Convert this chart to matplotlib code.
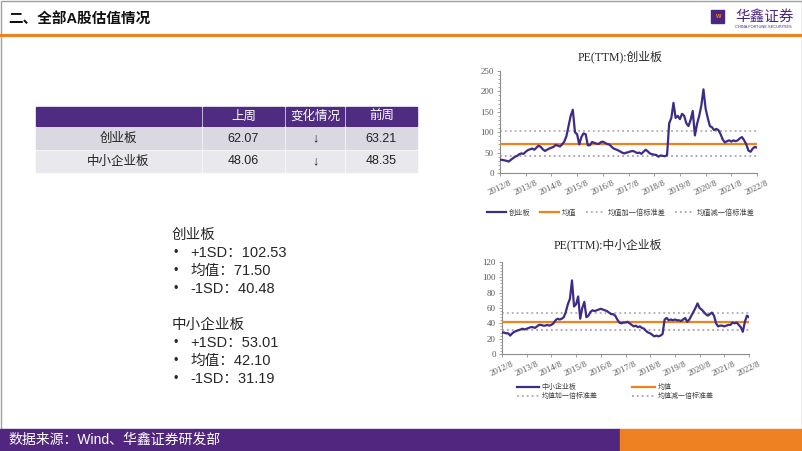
import numpy as np
import matplotlib.pyplot as plt
from matplotlib.patches import Rectangle
from matplotlib.lines import Line2D

plt.rcParams['font.family'] = ['Liberation Sans', 'Noto Sans CJK SC']

# 月度PE(TTM)  2012/8 - 2022/8
cyb_pe = [33, 32, 31, 30, 28,
          32, 36, 40, 42, 46, 48, 47, 52, 56, 58, 60, 57,
          62, 67, 64, 58, 54, 57, 60, 62, 64, 69, 67, 65,
          70, 77, 90, 115, 140, 155, 100, 95, 70, 88, 97, 95,
          68, 68, 76, 74, 72, 71, 75, 77, 74, 71, 70, 65,
          60, 58, 56, 53, 50, 48, 50, 51, 53, 54, 52, 49,
          50, 47, 52, 57, 53, 48, 46, 45, 44, 40, 43, 42,
          41, 44, 122, 135, 172, 135, 140, 132, 145, 140, 122, 115,
          130, 152, 92, 120, 140, 165, 205, 158, 135, 115, 112, 105,
          108, 105, 95, 82, 75, 78, 80, 77, 80, 78, 80, 85,
          88, 80, 70, 55, 52, 60, 64, 62]
zxb_pe = [28, 28, 27, 27, 24,
          27, 29, 30, 31, 32, 33, 32, 33, 34, 35, 35, 34,
          36, 38, 38, 37, 37, 38, 37, 38, 40, 44, 46, 45,
          46, 48, 55, 65, 72, 96, 62, 65, 75, 46, 60, 68,
          48, 50, 55, 57, 56, 57, 58, 59, 58, 57, 56, 54,
          52, 52, 50, 45, 41, 40, 41, 41, 42, 40, 38, 36,
          37, 35, 36, 34, 33, 30, 28, 27, 25, 23, 24, 23,
          24, 26, 45, 47, 44, 45, 44, 45, 44, 44, 43, 45,
          47, 42, 45, 50, 55, 60, 66, 60, 58, 55, 52, 50,
          52, 54, 50, 40, 36, 37, 37, 36, 37, 38, 38, 41,
          40, 41, 38, 35, 29, 42, 50, 48]
year_labels = ['2012/8', '2013/8', '2014/8', '2015/8', '2016/8', '2017/8',
               '2018/8', '2019/8', '2020/8', '2021/8', '2022/8']

cyb_stats = {'mean': 71.50, 'up': 102.53, 'dn': 40.48}
zxb_stats = {'mean': 42.10, 'up': 53.01, 'dn': 31.19}

table_cols = ['上周', '变化情况', '前周']
table_rows = ['创业板', '中小企业板']
last_week = ['62.07', '48.06']
change = ['↓', '↓']
prev_week = ['63.21', '48.35']

PURPLE = '#3E2B88'
ORANGE = '#F0821E'
DEEP = '#51267F'
UPC = '#A99AA6'
DNC = '#9C8DB3'
SERIF = ['Liberation Serif', 'Noto Sans CJK SC']
DOT = (0, (1.2, 2.0))

fig = plt.figure(figsize=(8.02, 4.51), dpi=100)

# 背景 (像素坐标)
bg = fig.add_axes([0, 0, 1, 1])
bg.set_xlim(0, 802)
bg.set_ylim(451, 0)
bg.axis('off')
bg.add_patch(Rectangle((0.5, 0.5), 801, 450, fill=False, ec='#A0A0A0', lw=1))
bg.text(8, 20, '二、全部A股估值情况', fontsize=10.5, fontweight='bold', va='center', color='#111111')
bg.plot([0, 802], [34.5, 34.5], color=ORANGE, lw=2.2)
bg.add_patch(Rectangle((711, 10), 13, 13, color='#4B2582'))
bg.text(717.5, 16.5, 'w', color=ORANGE, fontsize=5, ha='center', va='center', fontweight='bold')
bg.text(735, 17, '华鑫证券', color='#4B2582', fontsize=10.5, va='center')
bg.text(735, 27.5, 'CHINA FORTUNE SECURITIES', color='#4B2582', fontsize=2.8, va='center')

# 底部
bg.add_patch(Rectangle((0, 429), 620, 22, color=DEEP))
bg.add_patch(Rectangle((620, 429), 182, 22, color='#EE8222'))
bg.text(8, 440, '数据来源：Wind、华鑫证券研发部', color='white', fontsize=10, va='center')

# 表格
col_edges = [35, 202, 285, 345, 418]
row_edges = [106, 127, 150, 173]
row_fill = ['#DAD8E0', '#E9E8ED']
cells = [[''] + table_cols]
for i in range(len(table_rows)):
    cells.append([table_rows[i], last_week[i], change[i], prev_week[i]])
for r in range(3):
    for c in range(4):
        x0, x1 = col_edges[c], col_edges[c + 1]
        y0, y1 = row_edges[r], row_edges[r + 1]
        fc = '#4F2C82' if r == 0 else row_fill[r - 1]
        bg.add_patch(Rectangle((x0 + 0.8, y0 + 0.8), x1 - x0 - 1.6, y1 - y0 - 1.6, color=fc))
        tc = 'white' if r == 0 else '#222222'
        bg.text((x0 + x1) / 2, (y0 + y1) / 2, cells[r][c], color=tc, fontsize=9,
                ha='center', va='center')

# 文字说明
notes = [('创业板', cyb_stats), ('中小企业板', zxb_stats)]
y = 235
for name, st in notes:
    bg.text(172, y, name, fontsize=10.5, va='center', color='#262626')
    lines = ['+1SD：%.2f' % st['up'], '均值：%.2f' % st['mean'], '-1SD：%.2f' % st['dn']]
    for k, s in enumerate(lines):
        yy = y + 18 * (k + 1)
        bg.text(173, yy, '•', fontsize=9, va='center', color='#262626')
        bg.text(190, yy, s, fontsize=10.5, va='center', color='#262626')
    y = 325


def draw_pe(rect, vals, st, ymax, ystep, title, title_xy, leg_xy, ncol, name):
    ax = fig.add_axes(rect)
    x = np.arange(len(vals))
    ax.plot(x, vals, color=PURPLE, lw=1.6, zorder=4)
    ax.axhline(st['mean'], color=ORANGE, lw=1.6, zorder=3)
    ax.axhline(st['up'], color=UPC, lw=1.1, ls=DOT, zorder=2)
    ax.axhline(st['dn'], color=DNC, lw=1.1, ls=DOT, zorder=2)
    ax.set_xlim(0, len(vals) - 1)
    ax.set_ylim(0, ymax)
    ax.set_xticks(np.arange(0, len(vals), 12))
    ax.set_xticklabels(year_labels, rotation=25, ha='center', family=SERIF)
    ax.set_yticks(np.arange(0, ymax + 1, ystep))
    ax.set_yticklabels([str(v) for v in range(0, ymax + 1, ystep)], family=SERIF)
    ax.set_yticks(np.arange(0, ymax + 1, ystep / 5), minor=True)
    for s in ['top', 'right']:
        ax.spines[s].set_visible(False)
    for s in ['left', 'bottom']:
        ax.spines[s].set_color('#8C8C8C')
        ax.spines[s].set_linewidth(0.8)
    ax.tick_params(labelsize=6.5, colors='#8C8C8C', labelcolor='#595959', length=2.5, width=0.6, pad=2)
    ax.tick_params(which='minor', length=1.5, width=0.5, colors='#8C8C8C')
    fig.text(title_xy[0], title_xy[1], title, fontsize=8.5, ha='center', va='center',
             family=SERIF, color='#262626')
    h = [Line2D([], [], color=PURPLE, lw=1.6),
         Line2D([], [], color=ORANGE, lw=1.6),
         Line2D([], [], color=UPC, lw=1.1, ls=DOT),
         Line2D([], [], color=DNC, lw=1.1, ls=DOT)]
    labels = [name, '均值', '均值加一倍标准差', '均值减一倍标准差']
    if ncol == 2:
        h = [h[0], h[2], h[1], h[3]]
        labels = [labels[0], labels[2], labels[1], labels[3]]
        leg = ax.legend(h, labels, loc='center', bbox_to_anchor=leg_xy, bbox_transform=fig.transFigure,
                        ncol=2, frameon=False, handlelength=3.2, handletextpad=0.4,
                        columnspacing=5.0, labelspacing=0.3, prop={'family': SERIF, 'size': 5})
    else:
        leg = ax.legend(h, labels, loc='center', bbox_to_anchor=leg_xy, bbox_transform=fig.transFigure,
                        ncol=4, frameon=False, handlelength=2.6, handletextpad=0.4,
                        columnspacing=1.3, prop={'family': SERIF, 'size': 5.2})
    for t in leg.get_texts():
        t.set_color('#404040')
    return ax


draw_pe([500 / 802, 1 - 173 / 451, 257 / 802, 102 / 451], cyb_pe, cyb_stats, 250, 50,
        'PE(TTM):创业板', (620 / 802, 1 - 57 / 451), (621 / 802, 1 - 212 / 451), 4, '创业板')
draw_pe([502 / 802, 1 - 354 / 451, 247 / 802, 92 / 451], zxb_pe, zxb_stats, 120, 20,
        'PE(TTM):中小企业板', (608 / 802, 1 - 245 / 451), (615 / 802, 1 - 391 / 451), 2, '中小企业板')

fig.savefig('out.png', dpi=100)
